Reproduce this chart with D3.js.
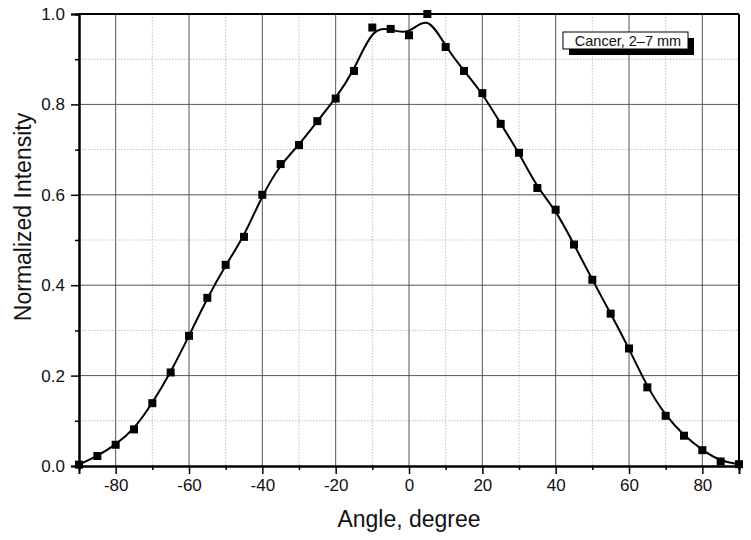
<!DOCTYPE html>
<html>
<head>
<meta charset="utf-8">
<script src="https://cdn.jsdelivr.net/npm/d3@7"></script>
<style>
  body { margin: 0; background: #fff; }
  svg { font-family: "Liberation Sans", Arial, sans-serif; }
</style>
</head>
<body>
<div id="chart"></div>
<script>
// data
const angles = [-90, -85, -80, -75, -70, -65, -60, -55, -50, -45, -40, -35, -30, -25, -20, -15, -10, -5,
  0, 5, 10, 15, 20, 25, 30, 35, 40, 45, 50, 55, 60, 65, 70, 75, 80, 85, 90];
const intensity = [0.003, 0.022, 0.047, 0.081, 0.139, 0.207, 0.288, 0.372, 0.445, 0.507, 0.600, 0.668, 0.710, 0.763, 0.813, 0.874, 0.970, 0.967,
  0.953, 1.000, 0.927, 0.874, 0.825, 0.757, 0.693, 0.615, 0.567, 0.490, 0.412, 0.337, 0.260, 0.174, 0.111, 0.067, 0.035, 0.010, 0.004];
const xTicks = [-80, -60, -40, -20, 0, 20, 40, 60, 80];
const xMinor = [-90, -70, -50, -30, -10, 10, 30, 50, 70, 90];
const yTicks = [0, 0.2, 0.4, 0.6, 0.8, 1.0];
const yMinor = [0.1, 0.3, 0.5, 0.7, 0.9];
const legendLabel = "Cancer, 2\u20137 mm";

const W = 751, H = 540;
const margin = { top: 14, right: 12, bottom: 74, left: 79 };
const width = W - margin.left - margin.right;
const height = H - margin.top - margin.bottom;

const svg = d3.select("#chart").append("svg")
  .attr("width", W).attr("height", H);
const g = svg.append("g").attr("transform", `translate(${margin.left},${margin.top})`);

const x = d3.scaleLinear().domain([-90, 90]).range([0, width]);
const y = d3.scaleLinear().domain([0, 1]).range([height, 0]);

// grid: minor dotted, major solid
g.selectAll(".xminor").data(xMinor).enter().append("line")
  .attr("x1", d => x(d)).attr("x2", d => x(d)).attr("y1", 0).attr("y2", height)
  .attr("stroke", "#b0b0b0").attr("stroke-width", 0.8).attr("stroke-dasharray", "1.5,1.5");
g.selectAll(".yminor").data(yMinor).enter().append("line")
  .attr("y1", d => y(d)).attr("y2", d => y(d)).attr("x1", 0).attr("x2", width)
  .attr("stroke", "#b0b0b0").attr("stroke-width", 0.8).attr("stroke-dasharray", "1.5,1.5");
g.selectAll(".xmajor").data(xTicks).enter().append("line")
  .attr("x1", d => x(d)).attr("x2", d => x(d)).attr("y1", 0).attr("y2", height)
  .attr("stroke", "#555").attr("stroke-width", 1);
g.selectAll(".ymajor").data(yTicks.slice(1, -1)).enter().append("line")
  .attr("y1", d => y(d)).attr("y2", d => y(d)).attr("x1", 0).attr("x2", width)
  .attr("stroke", "#555").attr("stroke-width", 1);

// axes
const xAxis = g.append("g").attr("transform", `translate(0,${height})`)
  .call(d3.axisBottom(x).tickValues(xTicks).tickSize(8).tickPadding(5).tickFormat(d3.format("d")));
g.append("g").attr("transform", `translate(0,${height})`)
  .call(d3.axisBottom(x).tickValues(xMinor).tickSize(4).tickFormat(""));
const yAxis = g.append("g")
  .call(d3.axisLeft(y).tickValues(yTicks).tickSize(8).tickPadding(6).tickFormat(d3.format(".1f")));
g.append("g")
  .call(d3.axisLeft(y).tickValues(yMinor).tickSize(4).tickFormat(""));

g.selectAll(".domain").attr("stroke", "#000").attr("stroke-width", 2);
g.selectAll(".tick line").attr("stroke", "#000").attr("stroke-width", 1.5);
g.selectAll(".tick text").attr("fill", "#111").style("font-size", "17px");
xAxis.selectAll(".tick text").text(d => d < 0 ? "-" + Math.abs(d) : d);

// frame top/right
g.append("line").attr("x1", 0).attr("x2", width).attr("y1", 0).attr("y2", 0)
  .attr("stroke", "#000").attr("stroke-width", 2);
g.append("line").attr("x1", width).attr("x2", width).attr("y1", 0).attr("y2", height)
  .attr("stroke", "#000").attr("stroke-width", 2);

// smoothed curve through the points
const pts = angles.map((a, i) => ({ a, v: intensity[i] }));
const line = d3.line().x(d => x(d.a)).y(d => y(d.v)).curve(d3.curveBasis);
g.append("path").datum(pts)
  .attr("d", line).attr("fill", "none").attr("stroke", "#000").attr("stroke-width", 2);

// markers
const ms = 8;
g.append("g").selectAll("rect").data(pts).enter().append("rect")
  .attr("x", d => x(d.a) - ms / 2).attr("y", d => y(d.v) - ms / 2)
  .attr("width", ms).attr("height", ms).attr("fill", "#000");

// axis titles
svg.append("text")
  .attr("x", 409).attr("y", 527)
  .attr("text-anchor", "middle").style("font-size", "23px").attr("fill", "#111")
  .text("Angle, degree");
svg.append("text")
  .attr("transform", `translate(31,217) rotate(-90)`)
  .attr("text-anchor", "middle").style("font-size", "23px").attr("fill", "#111")
  .text("Normalized Intensity");

// legend with shadow
const lg = svg.append("g").attr("transform", "translate(563,32)");
lg.append("rect").attr("x", 6).attr("y", 6).attr("width", 125).attr("height", 17).attr("fill", "#000");
lg.append("rect").attr("x", 0).attr("y", 0).attr("width", 125).attr("height", 17)
  .attr("fill", "#fff").attr("stroke", "#000").attr("stroke-width", 1);
lg.append("text").attr("x", 65).attr("y", 14).attr("text-anchor", "middle")
  .style("font-size", "14.5px").attr("fill", "#111").text(legendLabel);
</script>
</body>
</html>
